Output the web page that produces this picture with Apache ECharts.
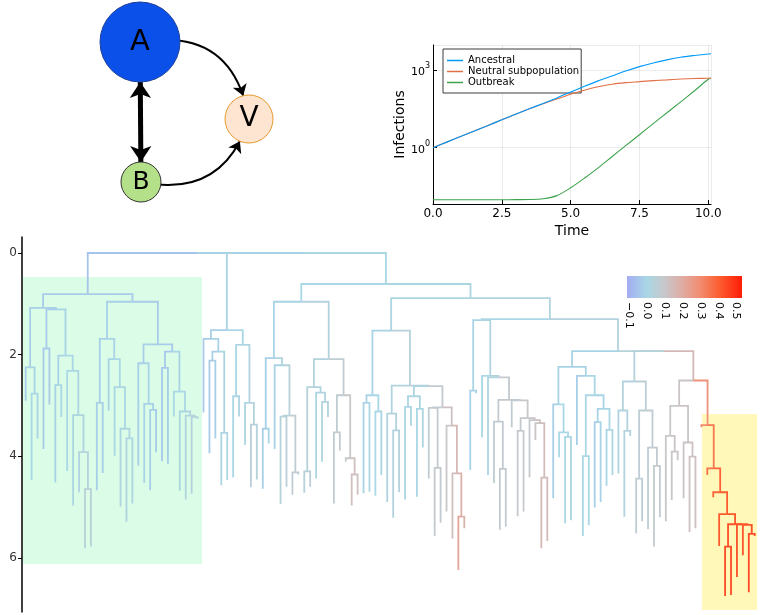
<!DOCTYPE html>
<html><head><meta charset="utf-8">
<script src="https://cdn.jsdelivr.net/npm/echarts@6/dist/echarts.min.js"></script>
<style>html,body{margin:0;padding:0;background:#fff}#c{width:768px;height:615px}</style>
</head><body><div id="c"></div>
<script>
// ---------------- network diagram data ----------------
const netNodes = ['A', 'V', 'B'];
const netNodePos = [[140, 42], [249, 119], [141, 182]];
const netEdges = [['A', 'V'], ['B', 'V'], ['A', 'B']];

// ---------------- infections line chart data ----------------
const timePoints = [0, 0.5, 1, 1.5, 2, 2.5, 3, 3.5, 4, 4.5, 5, 5.5, 6, 6.5, 7, 7.5, 8, 8.5, 9, 9.5, 10, 10.1];
const ancestral = [1, 1.64, 2.69, 4.42, 7.24, 11.9, 19.5, 31.6, 51.3, 83.2, 141, 234, 380, 589, 912, 1349, 1862, 2455, 3090, 3631, 4169, 4266];
const neutral = [1, 1.64, 2.69, 4.42, 7.24, 11.9, 19.5, 31.6, 50.1, 75.9, 115, 166, 224, 282, 324, 355, 389, 417, 447, 468, 479, 484];
const outbreak = [0.0098, 0.0098, 0.0098, 0.0098, 0.0098, 0.0098, 0.0099, 0.0100, 0.0107, 0.0141, 0.0282, 0.0661, 0.166, 0.447, 1.20, 3.16, 8.51, 22.4, 58.9, 158, 437, 484];
const seriesNames = ['Ancestral', 'Neutral subpopulation', 'Outbreak'];

// ---------------- tree data (Newick-like: "(children)height/value", leaf "height/value") ----------------
const cladeGLa = '(2.91/-0.02,(4.47/0,3.65/-0.01)2.77/-0.01)2.25/-0.02';
const cladeGLb = '((3.86/-0.03,2.98/-0.03)1.88/-0.03,((4.52/-0.01,3.23/0)2.60/-0.01,(4.29/0,(4.97/0.01,(4.71/0.02,(5.81/0.05,5.78/0.05)4.65/0.04)3.92/0.02)3.19/0.01)2.32/0)2.02/-0.01)1.11/-0.02';
const cladeGRa = '((4.67/-0.02,4.33/-0.02)2.95/-0.02,(3.10/-0.01,(3.99/0,(4.99/0.01,(5.29/0.02,4.93/0.01)3.65/0.02)3.46/0.01)2.64/0)2.09/-0.01)1.69/-0.02';
const cladeGRb = '((4.19/-0.02,(4.53/-0.01,(4.67/-0.02,3.92/-0.03)3.09/-0.02)2.97/-0.01)2.17/-0.02,((4.10/-0.04,4.15/-0.03)2.26/-0.04,(3.22/0,(4.68/0.01,(4.85/0.02,(4.74/0.03,3.27/0.03)3.23/0.03)3.20/0.02)3.12/0)2.73/-0.01)1.94/-0.03)1.80/-0.03';
const cladeA1 = '(3.14/-0.03,((3.94/-0.03,3.65/-0.02)2.12/-0.02,(4.57/0.01,4.47/0.01)3.54/0.01)1.94/-0.01)1.69/-0.02';
const cladeA2 = '((4.42/0,3.22/0.01)2.82/0,(3.78/0.01,(4.61/0.05,4.46/0.04)3.38/0.04)2.95/0.02)1.81/0';
const cladeBL1 = '((4.64/-0.02,3.75/-0.01)3.46/-0.02,(3.86/-0.01,((4.94/0.04,4.60/0.05)3.22/0.04,(4.76/0.07,4.36/0.07)4.32/0.07)3.20/0.04)2.21/0.01)2.07/-0.01';
const cladeBL2 = '(((4.72/0.04,4.60/0.05)4.30/0.04,(4.44/0.01,(4.11/0.02,3.23/0.03)2.93/0.02)2.75/0.02)2.64/0.03,((4.93/0.07,3.89/0.08)3.53/0.07,(4.11/0.10,(4.97/0.13,4.76/0.12)4.36/0.13)4.04/0.10)2.80/0.07)2.09/0.03';
const cladeBR1a = '((4.73/-0.01,4.70/0)2.95/-0.01,(4.78/0,4.37/0)3.12/0)2.80/-0.01';
const cladeBR1b = '((4.90/0.02,(5.21/0.03,4.71/0.03)3.49/0.03)3.16/0.03,(((4.85/0,3.40/0.01)3.03/0.01,(4.80/0,3.83/0.01)3.07/0.01)2.82/0.01,((4.44/0.07,(5.57/0.08,5.31/0.08)4.23/0.08)3.05/0.07,(5.09/0.10,(5.62/0.13,(6.24/0.22,5.42/0.17)5.19/0.18)4.34/0.15)3.40/0.12)3.04/0.08)2.62/0.05)2.61/0.04';
const cladeBR2a = '((4.27/-0.01,2.76/-0.01)2.71/-0.01,(3.63/0,(4.37/0.01,((4.53/0.07,(5.45/0.08,5.39/0.08)4.25/0.08)3.32/0.08,(3.43/0.07,((5.18/0.09,5.09/0.09)3.50/0.09,(4.42/0.09,(3.68/0.11,(5.81/0.15,5.67/0.14)4.42/0.14)3.35/0.12)3.29/0.11)3.25/0.10)2.90/0.09)2.89/0.08)2.45/0.05)2.42/0.02)1.32/0';
const cladeS1 = '((4.83/-0.02,(4.02/0,(5.32/0,5.26/0.01)3.62/0)3.53/0)2.98/-0.01,(3.78/-0.02,((5.57/0,5.36/0)4.00/0,((5.01/-0.02,4.90/-0.01)3.33/-0.01,(4.58/0,4.37/0.01)3.48/0)3.07/-0.01)2.80/0)2.42/-0.01)2.24/-0.01';
const cladeS2Left = '((4.34/0.02,(5.19/0.03,3.60/0.03)3.50/0.03)3.10/0.03,((5.52/0.07,5.28/0.06)4.44/0.06,(5.44/0.07,(5.78/0.08,5.20/0.08)4.19/0.08)3.83/0.07)3.10/0.06)2.53/0.04';
const cladeP = '((5.28/0.10,(4.86/0.11,4.08/0.11)3.91/0.11)3.60/0.10,(4.83/0.11,(5.49/0.12,5.42/0.12)4.01/0.12)3.73/0.11)3.01/0.11';
const cladeOutbreak = '(3.43/0.30,(4.37/0.36,(4.81/0.39,(5.77/0.41,((6.75/0.44,6.73/0.44)5.78/0.43,(6.38/0.43,(5.95/0.42,(6.68/0.44,5.57/0.43)5.53/0.43)5.35/0.42)5.34/0.42)5.34/0.42)5.14/0.41)4.71/0.39)4.24/0.35)3.39/0.28';
const greenClade = `((${cladeGLa},${cladeGLb})1.08/-0.03,(${cladeGRa},${cladeGRb})0.96/-0.03)0.81/-0.05`;
const cladeA = `(${cladeA1},${cladeA2})1.52/-0.01`;
const cladeBLeft = `(${cladeBL1},${cladeBL2})0.96/0`;
const cladeBR1 = `(${cladeBR1a},${cladeBR1b})1.53/0.01`;
const treeNewick = `(${greenClade},(${cladeA},(${cladeBLeft},(${cladeBR1},(${cladeBR2a},(${cladeS1},(${cladeS2Left},(${cladeP},${cladeOutbreak})2.51/0.15)1.93/0.04)1.93/0.03)1.30/0.02)0.89/0.01)0.61/0)0/-0.01)0/0`;

// highlighted clades: [leafFrom, leafTo, depthFrom, depthTo] in axis units
const greenBox = [-0.45, 29.75, 0.47, 6.12];
const yellowBox = [114.1, 123.4, 3.17, 7.03];
const treeTicks = [0, 2, 4, 6];

// colour bar
const colorbarStops = [-0.111, 0.0, 0.1, 0.2, 0.3, 0.4, 0.532];
const colorbarColors = ['#a3acf3', '#a9d7e5', '#c8c7ca', '#dfaba2', '#f28c70', '#fc5f32', '#ff1c06'];
const colorbarTicks = [-0.1, 0.0, 0.1, 0.2, 0.3, 0.4, 0.5];

// ---------------- helpers ----------------
function hexToRgb(h) { return [1, 3, 5].map(i => parseInt(h.slice(i, i + 2), 16)); }
function valueToColor(v) {
  const s = colorbarStops, c = colorbarColors;
  if (v <= s[0]) return c[0];
  for (let i = 1; i < s.length; i++) {
    if (v <= s[i]) {
      const t = (v - s[i - 1]) / (s[i] - s[i - 1]);
      const a = hexToRgb(c[i - 1]), b = hexToRgb(c[i]);
      return 'rgb(' + a.map((x, k) => Math.round(x + (b[k] - x) * t)).join(',') + ')';
    }
  }
  return c[c.length - 1];
}
function parseNewick(str) {
  const s = str.replace(/\s+/g, '');
  let i = 0;
  function node() {
    const n = { children: [] };
    if (s[i] === '(') {
      i++;
      n.children.push(node());
      while (s[i] === ',') { i++; n.children.push(node()); }
      i++;
    }
    const j = i;
    while (i < s.length && s[i] !== ',' && s[i] !== ')') i++;
    const parts = s.slice(j, i).split('/').map(Number);
    n.h = parts[0]; n.v = parts[1];
    return n;
  }
  return node();
}
const tree = parseNewick(treeNewick);
let leafCounter = 0;
function placeX(n) {
  if (!n.children.length) { n.x = leafCounter++; return; }
  n.children.forEach(placeX);
  n.x = (n.children[0].x + n.children[n.children.length - 1].x) / 2;
}
placeX(tree);
const treeSegments = [];
function collect(n) {
  n.children.forEach(c => {
    treeSegments.push({ coords: [[n.x, n.h], [c.x, n.h], [c.x, c.h]], lineStyle: { color: valueToColor(c.v) } });
    collect(c);
  });
}
collect(tree);

const FONT = 'DejaVu Sans';
const chart = echarts.init(document.getElementById('c'));
const lineColors = ['#009af9', '#e26f46', '#3da44d'];
const lineData = [ancestral, neutral, outbreak];

chart.setOption({
  animation: false,
  backgroundColor: '#fff',
  textStyle: { fontFamily: FONT },
  legend: {
    orient: 'vertical', left: 443, top: 49, padding: [6, 2, 5, 4], itemGap: 0,
    itemWidth: 16, itemHeight: 1.5, icon: 'rect',
    borderColor: '#3c3c3c', borderWidth: 1, borderRadius: 0, backgroundColor: '#fff',
    textStyle: { fontSize: 10, lineHeight: 11, color: '#000', fontFamily: FONT },
    data: seriesNames
  },
  grid: [
    { left: 433, top: 45, width: 278, height: 159 },
    { left: 22, top: 237, width: 746, height: 375 },
    { left: 627, top: 276, width: 115, height: 22 }
  ],
  xAxis: [
    {
      gridIndex: 0, type: 'value', min: 0, max: 10.1, interval: 2.5,
      name: 'Time', nameLocation: 'middle', nameGap: 20,
      nameTextStyle: { fontSize: 14, color: '#000', fontFamily: FONT },
      axisLine: { lineStyle: { color: '#000', width: 1 } },
      axisTick: { inside: true, length: 4, lineStyle: { color: '#000' } },
      axisLabel: { fontSize: 12, color: '#000', margin: 4, showMaxLabel: false, formatter: v => v.toFixed(1) },
      splitLine: { show: true, lineStyle: { color: 'rgba(0,0,0,0.1)', width: 0.8 } }
    },
    { gridIndex: 1, type: 'value', min: -0.624, max: 125.24, show: false },
    {
      gridIndex: 2, type: 'value', min: -0.111, max: 0.532,
      axisLine: { show: false },
      axisTick: { show: true, inside: true, length: 22, customValues: colorbarTicks, lineStyle: { color: 'rgba(255,255,255,0.55)', width: 1 } },
      axisLabel: { show: true, rotate: -90, fontSize: 11, color: '#000', margin: 4, customValues: colorbarTicks,
        formatter: v => (v < -1e-9 ? '\u2212' : '') + Math.abs(v).toFixed(1) },
      splitLine: { show: false }
    }
  ],
  yAxis: [
    {
      gridIndex: 0, type: 'log', logBase: 1000, min: 0.0067, max: 9226,
      name: 'Infections', nameLocation: 'middle', nameGap: 24,
      nameTextStyle: { fontSize: 14, color: '#000', fontFamily: FONT },
      axisLine: { show: true, lineStyle: { color: '#000', width: 1 } },
      axisTick: { inside: true, length: 4, lineStyle: { color: '#000' } },
      axisLabel: {
        margin: 3, showMinLabel: false, showMaxLabel: false,
        formatter: v => {
          const e = Math.log10(v);
          if (Math.abs(e - Math.round(e)) < 1e-6 && Math.round(e) % 3 === 0) return '{b|10}{s|' + Math.round(e) + '}';
          return '';
        },
        rich: {
          b: { fontSize: 11, color: '#000', fontFamily: FONT, lineHeight: 16, verticalAlign: 'bottom' },
          s: { fontSize: 8, color: '#000', fontFamily: FONT, lineHeight: 16, verticalAlign: 'top' }
        }
      },
      splitLine: { show: true, lineStyle: { color: 'rgba(0,0,0,0.1)', width: 0.8 } }
    },
    {
      gridIndex: 1, type: 'value', inverse: true, min: -0.315, max: 7.067,
      axisLine: { show: true, onZero: false, lineStyle: { color: '#000', width: 1.5 } },
      axisTick: { show: true, length: 4, customValues: treeTicks, lineStyle: { color: '#000' } },
      axisLabel: { show: true, fontSize: 12, color: '#333', margin: 5, customValues: treeTicks },
      splitLine: { show: false }
    },
    { gridIndex: 2, type: 'value', min: 0, max: 1, show: false }
  ],
  series: [
    ...seriesNames.map((name, k) => ({
      name, type: 'line', xAxisIndex: 0, yAxisIndex: 0,
      data: timePoints.map((t, i) => [t, lineData[k][i]]),
      symbol: 'none', smooth: 0.3, color: lineColors[k],
      lineStyle: { width: 1.1, color: lineColors[k] }, z: 3 + (2 - k)
    })),
    {
      type: 'custom', xAxisIndex: 1, yAxisIndex: 1, silent: true, z: 1,
      data: [greenBox.concat([0]), yellowBox.concat([1])],
      renderItem: (params, api) => {
        const p0 = api.coord([api.value(0), api.value(2)]);
        const p1 = api.coord([api.value(1), api.value(3)]);
        return { type: 'rect', shape: { x: p0[0], y: p0[1], width: p1[0] - p0[0], height: p1[1] - p0[1] },
          style: { fill: api.value(4) === 0 ? '#dbfce7' : '#fff8b8' } };
      }
    },
    {
      type: 'lines', coordinateSystem: 'cartesian2d', xAxisIndex: 1, yAxisIndex: 1,
      polyline: true, silent: true, z: 3, data: treeSegments,
      lineStyle: { width: 1.8, opacity: 1 }
    },
    {
      type: 'custom', xAxisIndex: 2, yAxisIndex: 2, silent: true, z: 1,
      data: [[colorbarStops[0], colorbarStops[colorbarStops.length - 1]]],
      renderItem: (params, api) => {
        const p0 = api.coord([api.value(0), 1]);
        const p1 = api.coord([api.value(1), 0]);
        const span = colorbarStops[colorbarStops.length - 1] - colorbarStops[0];
        return { type: 'rect', shape: { x: p0[0], y: p0[1], width: p1[0] - p0[0], height: p1[1] - p0[1] },
          style: { fill: new echarts.graphic.LinearGradient(0, 0, 1, 0,
            colorbarStops.map((s, i) => ({ offset: (s - colorbarStops[0]) / span, color: colorbarColors[i] }))) } };
      }
    },
    {
      type: 'graph', layout: 'none', left: 140, top: 42, width: 109, height: 140,
      roam: false, silent: true, z: 6,
      data: [
        { name: 'A', x: netNodePos[0][0], y: netNodePos[0][1], symbolSize: 80,
          itemStyle: { color: '#0b50e8', borderColor: '#1e3f99', borderWidth: 1 },
          label: { show: true, position: 'inside', fontSize: 29, color: '#000', fontFamily: FONT } },
        { name: 'V', x: netNodePos[1][0], y: netNodePos[1][1], symbolSize: 48,
          itemStyle: { color: '#fde5d1', borderColor: '#e69a2e', borderWidth: 1 },
          label: { show: true, position: 'inside', fontSize: 28, color: '#000', fontFamily: FONT } },
        { name: 'B', x: netNodePos[2][0], y: netNodePos[2][1], symbolSize: 40,
          itemStyle: { color: '#b5e08a', borderColor: '#333', borderWidth: 1 },
          label: { show: true, position: 'inside', fontSize: 25, color: '#000', fontFamily: FONT } }
      ],
      links: [
        { source: netEdges[0][0], target: netEdges[0][1], symbol: ['none', 'arrow'], symbolSize: [4, 11],
          lineStyle: { color: '#000', width: 2, opacity: 1, curveness: 0.5 } },
        { source: netEdges[1][0], target: netEdges[1][1], symbol: ['none', 'arrow'], symbolSize: [4, 11],
          lineStyle: { color: '#000', width: 2, opacity: 1, curveness: -0.45 } },
        { source: netEdges[2][0], target: netEdges[2][1], symbol: ['arrow', 'arrow'], symbolSize: [16, 16],
          lineStyle: { color: '#000', width: 5, opacity: 1, curveness: 0 } }
      ]
    }
  ]
});
</script></body></html>
